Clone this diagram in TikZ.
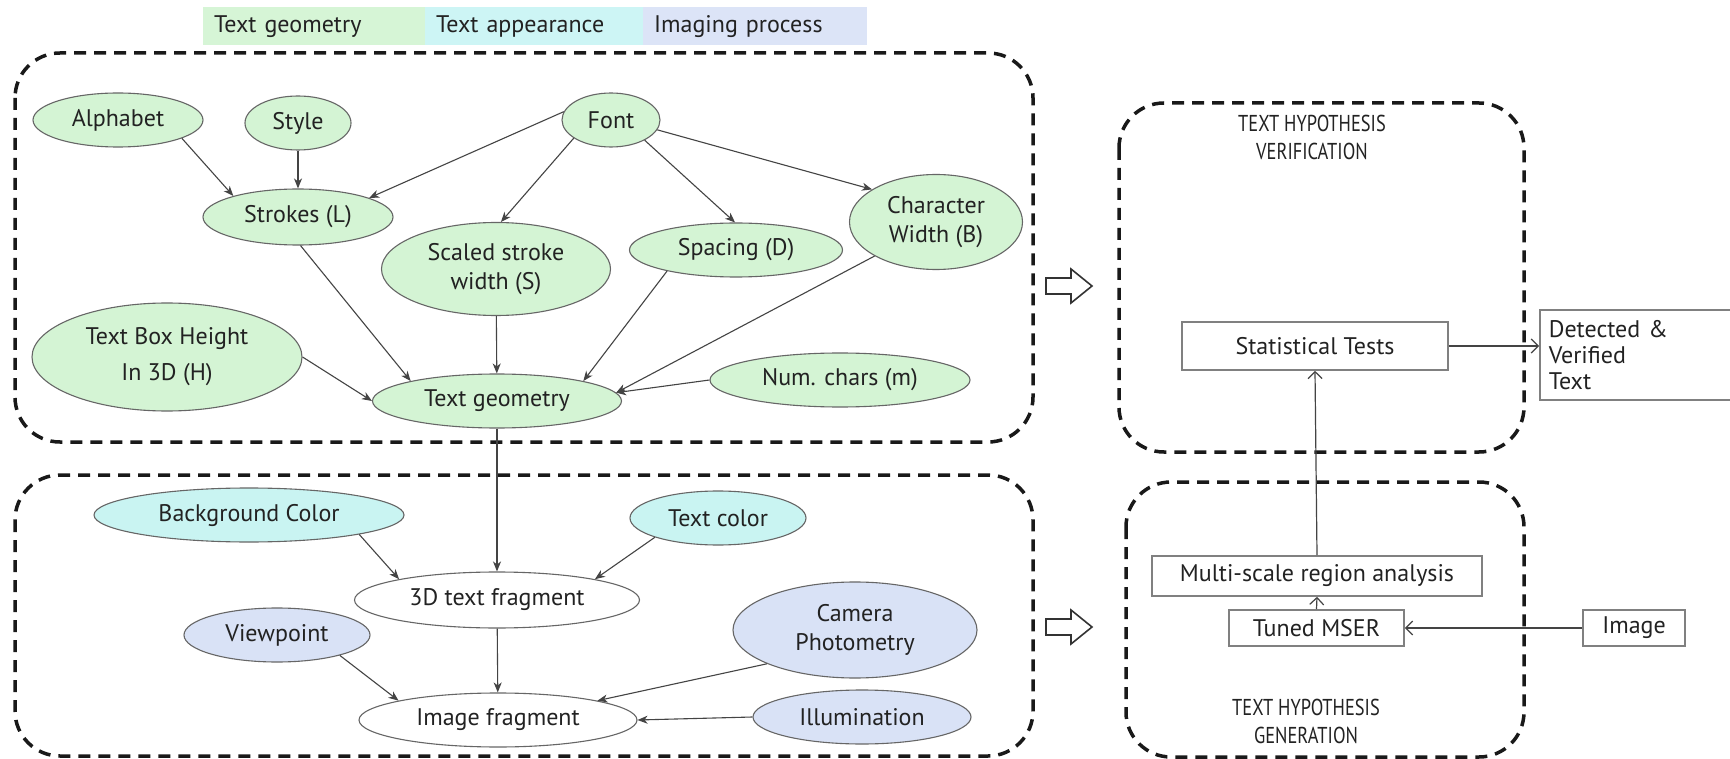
\documentclass[tikz,border=0pt]{standalone}
\usepackage{fontspec}
\setmainfont{PT Sans}
\newfontfamily\headfont[FakeStretch=0.8]{PT Sans}
\usetikzlibrary{arrows.meta,shapes.geometric}
\definecolor{geomfill}{HTML}{D4F4D4}
\definecolor{appfill}{HTML}{C9F4F2}
\definecolor{imgfill}{HTML}{D9E2F6}
\definecolor{geomleg}{HTML}{D6F5D6}
\definecolor{appleg}{HTML}{CDF5F5}
\definecolor{imgleg}{HTML}{DCE4F7}
\definecolor{txt}{HTML}{222222}
\definecolor{ellborder}{HTML}{666666}
\definecolor{linkcol}{HTML}{444444}
\definecolor{boxcol}{HTML}{808080}
\begin{document}
\begin{tikzpicture}[x=1pt,y=-1pt,
  every node/.style={font=\fontsize{24}{29}\selectfont, text=txt},
  ell/.style={ellipse, draw=ellborder, line width=1.1pt, inner sep=0pt, align=center},
  geo/.style={ell, fill=geomfill},
  app/.style={ell, fill=appfill},
  imgp/.style={ell, fill=imgfill},
  plain/.style={ell, fill=white},
  link/.style={draw=linkcol, line width=1.1pt, -{Stealth[length=10pt,width=8pt,inset=3pt]}},
  group/.style={draw=black!90, line width=3.5pt, dash pattern=on 12pt off 8pt, rounded corners=45pt},
  legend/.style={anchor=north west, minimum height=38pt, inner xsep=11pt, inner ysep=0pt, align=left},
  blockbox/.style={draw=boxcol, line width=1.6pt, fill=white, inner sep=0pt},
  flow/.style={draw=linkcol, line width=1.2pt, -{Straight Barb[length=7pt,width=14pt]}},
  hollow/.style={draw=black!80, line width=1.6pt, fill=white, line join=miter},
  title/.style={align=center, font=\headfont\fontsize{23}{28}\selectfont},
]
\clip (0,0) rectangle (1730,759);
\fill[white] (0,0) rectangle (1730,759);

% legend
\node[legend, fill=geomleg, text width=200pt] (lgeo) at (203,7) {Text geometry};
\node[legend, fill=appleg, text width=196pt] (lapp) at (425,7) {Text appearance};
\node[legend, fill=imgleg, text width=202pt] (limg) at (643,7) {Imaging process};

% group frames
\draw[group] (15,53) rectangle (1033,442);
\draw[group] (15,475) rectangle (1033,756);
\draw[group] (1119,103) rectangle (1524,452);
\draw[group] (1126,482) rectangle (1524,757);

% text geometry model
\node[geo, minimum width=170pt, minimum height=54pt] (alph) at (118,120) {Alphabet};
\node[geo, minimum width=106pt, minimum height=54pt] (style) at (298,123) {Style};
\node[geo, minimum width=98pt, minimum height=54pt] (font) at (611,120) {Font};
\node[geo, minimum width=190pt, minimum height=56pt] (strokes) at (298,217) {Strokes (L)};
\node[geo, minimum width=229pt, minimum height=93pt] (scaled) at (496,269) {Scaled stroke\\width (S)};
\node[geo, minimum width=213pt, minimum height=54pt] (spacing) at (736,250) {Spacing (D)};
\node[geo, minimum width=173pt, minimum height=95pt] (charw) at (936,222) {Character\\Width (B)};
\node[geo, minimum width=270pt, minimum height=108pt, font=\fontsize{24}{36}\selectfont] (tbh) at (167,357) {Text Box Height\\In 3D (H)};
\node[geo, minimum width=249pt, minimum height=54pt] (tgeom) at (497,401) {Text geometry};
\node[geo, minimum width=260pt, minimum height=54pt] (numc) at (840,380) {Num. chars (m)};

% appearance and imaging
\node[app, minimum width=310pt, minimum height=54pt] (bg) at (249,515) {Background Color};
\node[app, minimum width=176pt, minimum height=54pt] (tcol) at (718,518) {Text color};
\node[plain, minimum width=285pt, minimum height=56pt] (frag3d) at (497,600) {3D text fragment};
\node[imgp, minimum width=186pt, minimum height=54pt] (view) at (277,635) {Viewpoint};
\node[imgp, minimum width=244pt, minimum height=96pt] (cam) at (855,630) {Camera\\Photometry};
\node[plain, minimum width=278pt, minimum height=54pt] (imgfrag) at (498,720) {Image fragment};
\node[imgp, minimum width=218pt, minimum height=54pt] (illum) at (862,717) {Illumination};

% dependencies
\draw[link] (alph.-16) -- (strokes.162);
\draw[link] (style) -- (strokes);
\draw[link] (font.170) -- (strokes.15);
\draw[link] (font.-154) -- (scaled.84);
\draw[link] (font.-31) -- (spacing.92);
\draw[link] (font.-12) -- (charw.153);
\draw[link] (strokes.-85) -- (tgeom.167);
\draw[link] (scaled) -- (tgeom);
\draw[link] (spacing.-163) -- (tgeom.13);
\draw[link] (charw.-151) -- (tgeom.4);
\draw[link] (numc.west) -- (tgeom.4);
\draw[link] (tbh.east) -- (tgeom.west);
\draw[link] (tgeom) -- (frag3d);
\draw[link] (bg.-10) -- (frag3d.168);
\draw[link] (tcol.-163) -- (frag3d.12);
\draw[link] (frag3d) -- (imgfrag);
\draw[link] (view.-18) -- (imgfrag.169);
\draw[link] (cam.-159) -- (imgfrag.11);
\draw[link] (illum.west) -- (imgfrag.east);

% hollow arrows into the pipeline
\draw[hollow] (1046,278) -- (1071,278) -- (1071,269) -- (1092,286) -- (1071,303) -- (1071,294) -- (1046,294) -- cycle;
\draw[hollow] (1046,619) -- (1071,619) -- (1071,610) -- (1092,627) -- (1071,644) -- (1071,635) -- (1046,635) -- cycle;

% pipeline
\node[title] (vtitle) at (1312,137) {TEXT HYPOTHESIS\\VERIFICATION};
\node[title] (gtitle) at (1306,721) {TEXT HYPOTHESIS\\GENERATION};
\node[blockbox, minimum width=266pt, minimum height=48pt] (stat) at (1315,346) {Statistical Tests};
\node[blockbox, minimum width=330pt, minimum height=40pt] (multi) at (1317,576) {Multi-scale region analysis};
\node[blockbox, minimum width=175pt, minimum height=36pt] (tuned) at (1316.5,628) {Tuned MSER};
\node[blockbox, minimum width=102pt, minimum height=36pt] (imgbox) at (1634,628) {Image};
\node[blockbox, anchor=north west, minimum height=90pt, text width=190pt, inner xsep=9pt, align=left, font=\fontsize{24}{26}\selectfont] (det) at (1539,309) {Detected \&\\Verified\\Text};

\draw[flow] (stat.east) -- (stat.east -| det.west);
\draw[flow] (multi.north) -- (stat.south);
\draw[flow] (tuned.north) -- (multi.south);
\draw[flow] (imgbox.west) -- (tuned.east);
\end{tikzpicture}
\end{document}
